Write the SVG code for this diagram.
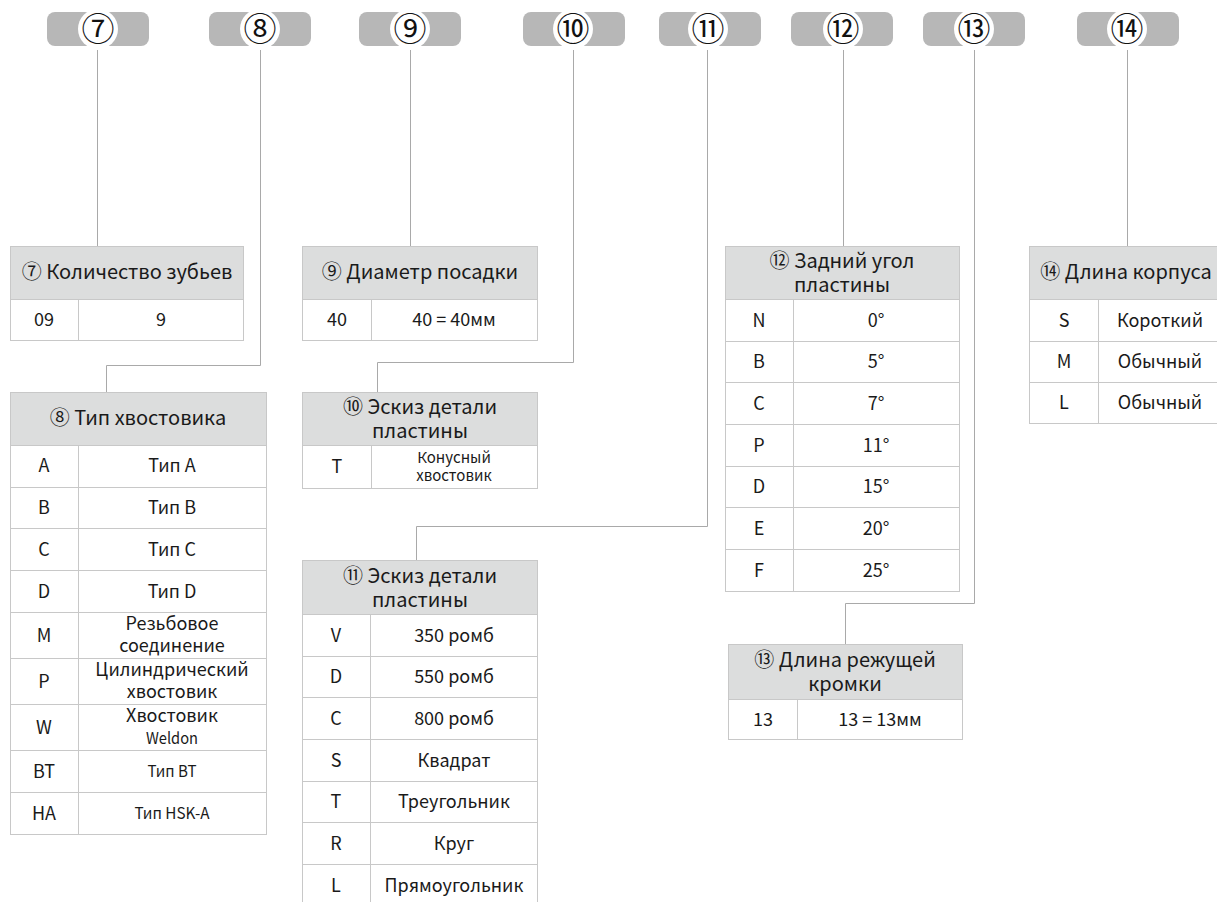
<svg xmlns="http://www.w3.org/2000/svg" width="1217" height="902" viewBox="0 0 1217 902">
<style>
.pill{fill:#b7b7b7}
.hole{fill:#fff}
.num{font-family:"Noto Sans CJK SC","Noto Sans",sans-serif;font-size:33px;text-anchor:middle;fill:#111}
.hd{fill:#dcdddd;stroke:#c8c8c8;stroke-width:1}
.cell{fill:#fff;stroke:#c8c8c8;stroke-width:1}
.t{font-family:"Noto Sans CJK SC","Noto Sans",sans-serif;font-size:18px;text-anchor:middle;fill:#1a1a1a}
.h{font-size:20px}
.s{font-size:16px}
.xs{font-size:15px}
.conn{stroke:#a9a9a9;fill:none;stroke-width:1}
</style>
<rect width="1217" height="902" fill="#fff"/>
<g id="pills">
<g id="pill7"><rect class="pill" x="47" y="12" width="102" height="34" rx="8"/><circle class="hole" cx="98" cy="29" r="20"/><text class="num" x="98" y="41">⑦</text></g>
<g id="pill8"><rect class="pill" x="209" y="12" width="102" height="34" rx="8"/><circle class="hole" cx="260" cy="29" r="20"/><text class="num" x="260" y="41">⑧</text></g>
<g id="pill9"><rect class="pill" x="359" y="12" width="102" height="34" rx="8"/><circle class="hole" cx="410" cy="29" r="20"/><text class="num" x="410" y="41">⑨</text></g>
<g id="pill10"><rect class="pill" x="523" y="12" width="102" height="34" rx="8"/><circle class="hole" cx="573" cy="29" r="20"/><text class="num" x="573" y="41">⑩</text></g>
<g id="pill11"><rect class="pill" x="659" y="12" width="102" height="34" rx="8"/><circle class="hole" cx="708" cy="29" r="20"/><text class="num" x="708" y="41">⑪</text></g>
<g id="pill12"><rect class="pill" x="791" y="12" width="102" height="34" rx="8"/><circle class="hole" cx="843" cy="29" r="20"/><text class="num" x="843" y="41">⑫</text></g>
<g id="pill13"><rect class="pill" x="923" y="12" width="102" height="34" rx="8"/><circle class="hole" cx="974" cy="29" r="20"/><text class="num" x="974" y="41">⑬</text></g>
<g id="pill14"><rect class="pill" x="1077" y="12" width="102" height="34" rx="8"/><circle class="hole" cx="1127" cy="29" r="20"/><text class="num" x="1127" y="41">⑭</text></g>
</g>
<g id="connectors">
<path class="conn" d="M97.5 50V246"/>
<path class="conn" d="M260.5 50V365.5H106.5V392"/>
<path class="conn" d="M410.5 50V246"/>
<path class="conn" d="M573.5 50V362.5H377.5V392"/>
<path class="conn" d="M707.5 50V526.5H416.5V560"/>
<path class="conn" d="M843.5 50V246"/>
<path class="conn" d="M974.5 50V603.5H845.5V644"/>
<path class="conn" d="M1127.5 50V246"/>
</g>
<g id="table7">
<rect class="hd" x="10.5" y="246.5" width="233" height="53"/>
<text class="t h" x="127" y="279">⑦ Количество зубьев</text>
<rect class="cell" x="10.5" y="299.5" width="68" height="41"/><rect class="cell" x="78.5" y="299.5" width="165" height="41"/>
<text class="t" x="44" y="326">09</text><text class="t" x="161" y="326">9</text>
</g>
<g id="table8">
<rect class="hd" x="10.5" y="392.5" width="256" height="53"/>
<text class="t h" x="138" y="425">⑧ Тип хвостовика</text>
<rect class="cell" x="10.5" y="445.5" width="68" height="42"/><rect class="cell" x="78.5" y="445.5" width="188" height="42"/>
<text class="t" x="44" y="472">A</text><text class="t" x="172" y="472">Тип A</text>
<rect class="cell" x="10.5" y="487.5" width="68" height="41"/><rect class="cell" x="78.5" y="487.5" width="188" height="41"/>
<text class="t" x="44" y="514">B</text><text class="t" x="172" y="514">Тип B</text>
<rect class="cell" x="10.5" y="528.5" width="68" height="42"/><rect class="cell" x="78.5" y="528.5" width="188" height="42"/>
<text class="t" x="44" y="556">C</text><text class="t" x="172" y="556">Тип C</text>
<rect class="cell" x="10.5" y="570.5" width="68" height="42"/><rect class="cell" x="78.5" y="570.5" width="188" height="42"/>
<text class="t" x="44" y="598">D</text><text class="t" x="172" y="598">Тип D</text>
<rect class="cell" x="10.5" y="612.5" width="68" height="46"/><rect class="cell" x="78.5" y="612.5" width="188" height="46"/>
<text class="t" x="44" y="642">M</text><text class="t" x="172" y="630">Резьбовое</text><text class="t" x="172" y="652">соединение</text>
<rect class="cell" x="10.5" y="658.5" width="68" height="46"/><rect class="cell" x="78.5" y="658.5" width="188" height="46"/>
<text class="t" x="44" y="688">P</text><text class="t" x="172" y="676">Цилиндрический</text><text class="t" x="172" y="698">хвостовик</text>
<rect class="cell" x="10.5" y="704.5" width="68" height="46"/><rect class="cell" x="78.5" y="704.5" width="188" height="46"/>
<text class="t" x="44" y="734">W</text><text class="t" x="172" y="722">Хвостовик</text><text class="t s" x="172" y="744" textLength="52" lengthAdjust="spacingAndGlyphs">Weldon</text>
<rect class="cell" x="10.5" y="750.5" width="68" height="42"/><rect class="cell" x="78.5" y="750.5" width="188" height="42"/>
<text class="t" x="44" y="778">BT</text><text class="t s" x="172" y="777" textLength="49" lengthAdjust="spacingAndGlyphs">Тип BT</text>
<rect class="cell" x="10.5" y="792.5" width="68" height="42"/><rect class="cell" x="78.5" y="792.5" width="188" height="42"/>
<text class="t" x="44" y="820">HA</text><text class="t s" x="172" y="819" textLength="75" lengthAdjust="spacingAndGlyphs">Тип HSK-A</text>
</g>
<g id="table9">
<rect class="hd" x="302.5" y="246.5" width="235" height="53"/>
<text class="t h" x="420" y="279">⑨ Диаметр посадки</text>
<rect class="cell" x="302.5" y="299.5" width="69" height="41"/><rect class="cell" x="371.5" y="299.5" width="166" height="41"/>
<text class="t" x="337" y="326">40</text><text class="t" x="454" y="326">40 = 40мм</text>
</g>
<g id="table10">
<rect class="hd" x="302.5" y="392.5" width="235" height="53"/>
<text class="t h" x="420" y="414">⑩ Эскиз детали</text><text class="t h" x="420" y="438">пластины</text>
<rect class="cell" x="302.5" y="445.5" width="69" height="43"/><rect class="cell" x="371.5" y="445.5" width="166" height="43"/>
<text class="t" x="337" y="473">T</text><text class="t xs" x="454" y="463">Конусный</text><text class="t xs" x="454" y="481">хвостовик</text>
</g>
<g id="table11">
<rect class="hd" x="302.5" y="560.5" width="235" height="54"/>
<text class="t h" x="420" y="583">⑪ Эскиз детали</text><text class="t h" x="420" y="607">пластины</text>
<rect class="cell" x="302.5" y="614.5" width="68" height="42"/><rect class="cell" x="370.5" y="614.5" width="167" height="42"/>
<text class="t" x="336" y="642">V</text><text class="t" x="454" y="642">350 ромб</text>
<rect class="cell" x="302.5" y="656.5" width="68" height="41"/><rect class="cell" x="370.5" y="656.5" width="167" height="41"/>
<text class="t" x="336" y="683">D</text><text class="t" x="454" y="683">550 ромб</text>
<rect class="cell" x="302.5" y="697.5" width="68" height="42"/><rect class="cell" x="370.5" y="697.5" width="167" height="42"/>
<text class="t" x="336" y="725">C</text><text class="t" x="454" y="725">800 ромб</text>
<rect class="cell" x="302.5" y="739.5" width="68" height="42"/><rect class="cell" x="370.5" y="739.5" width="167" height="42"/>
<text class="t" x="336" y="767">S</text><text class="t" x="454" y="767">Квадрат</text>
<rect class="cell" x="302.5" y="781.5" width="68" height="41"/><rect class="cell" x="370.5" y="781.5" width="167" height="41"/>
<text class="t" x="336" y="808">T</text><text class="t" x="454" y="808">Треугольник</text>
<rect class="cell" x="302.5" y="822.5" width="68" height="42"/><rect class="cell" x="370.5" y="822.5" width="167" height="42"/>
<text class="t" x="336" y="850">R</text><text class="t" x="454" y="850">Круг</text>
<rect class="cell" x="302.5" y="864.5" width="68" height="42"/><rect class="cell" x="370.5" y="864.5" width="167" height="42"/>
<text class="t" x="336" y="892">L</text><text class="t" x="454" y="892">Прямоугольник</text>
</g>
<g id="table12">
<rect class="hd" x="725.5" y="246.5" width="234" height="53"/>
<text class="t h" x="842" y="268">⑫ Задний угол</text><text class="t h" x="842" y="292">пластины</text>
<rect class="cell" x="725.5" y="299.5" width="68" height="42"/><rect class="cell" x="793.5" y="299.5" width="166" height="42"/>
<text class="t" x="759" y="327">N</text><text class="t" x="876" y="327">0°</text>
<rect class="cell" x="725.5" y="341.5" width="68" height="41"/><rect class="cell" x="793.5" y="341.5" width="166" height="41"/>
<text class="t" x="759" y="368">B</text><text class="t" x="876" y="368">5°</text>
<rect class="cell" x="725.5" y="382.5" width="68" height="42"/><rect class="cell" x="793.5" y="382.5" width="166" height="42"/>
<text class="t" x="759" y="410">C</text><text class="t" x="876" y="410">7°</text>
<rect class="cell" x="725.5" y="424.5" width="68" height="42"/><rect class="cell" x="793.5" y="424.5" width="166" height="42"/>
<text class="t" x="759" y="452">P</text><text class="t" x="876" y="452">11°</text>
<rect class="cell" x="725.5" y="466.5" width="68" height="41"/><rect class="cell" x="793.5" y="466.5" width="166" height="41"/>
<text class="t" x="759" y="493">D</text><text class="t" x="876" y="493">15°</text>
<rect class="cell" x="725.5" y="507.5" width="68" height="42"/><rect class="cell" x="793.5" y="507.5" width="166" height="42"/>
<text class="t" x="759" y="535">E</text><text class="t" x="876" y="535">20°</text>
<rect class="cell" x="725.5" y="549.5" width="68" height="42"/><rect class="cell" x="793.5" y="549.5" width="166" height="42"/>
<text class="t" x="759" y="577">F</text><text class="t" x="876" y="577">25°</text>
</g>
<g id="table13">
<rect class="hd" x="728.5" y="644.5" width="234" height="55"/>
<text class="t h" x="845" y="667">⑬ Длина режущей</text><text class="t h" x="845" y="691">кромки</text>
<rect class="cell" x="728.5" y="699.5" width="69" height="40"/><rect class="cell" x="797.5" y="699.5" width="165" height="40"/>
<text class="t" x="763" y="726">13</text><text class="t" x="880" y="726">13 = 13мм</text>
</g>
<g id="table14">
<rect class="hd" x="1029.5" y="246.5" width="193" height="53"/>
<text class="t h" x="1126" y="279">⑭ Длина корпуса</text>
<rect class="cell" x="1029.5" y="299.5" width="69" height="42"/><rect class="cell" x="1098.5" y="299.5" width="124" height="42"/>
<text class="t" x="1064" y="327">S</text><text class="t" x="1160" y="327">Короткий</text>
<rect class="cell" x="1029.5" y="341.5" width="69" height="41"/><rect class="cell" x="1098.5" y="341.5" width="124" height="41"/>
<text class="t" x="1064" y="368">M</text><text class="t" x="1160" y="368">Обычный</text>
<rect class="cell" x="1029.5" y="382.5" width="69" height="41"/><rect class="cell" x="1098.5" y="382.5" width="124" height="41"/>
<text class="t" x="1064" y="409">L</text><text class="t" x="1160" y="409">Обычный</text>
</g>
</svg>
